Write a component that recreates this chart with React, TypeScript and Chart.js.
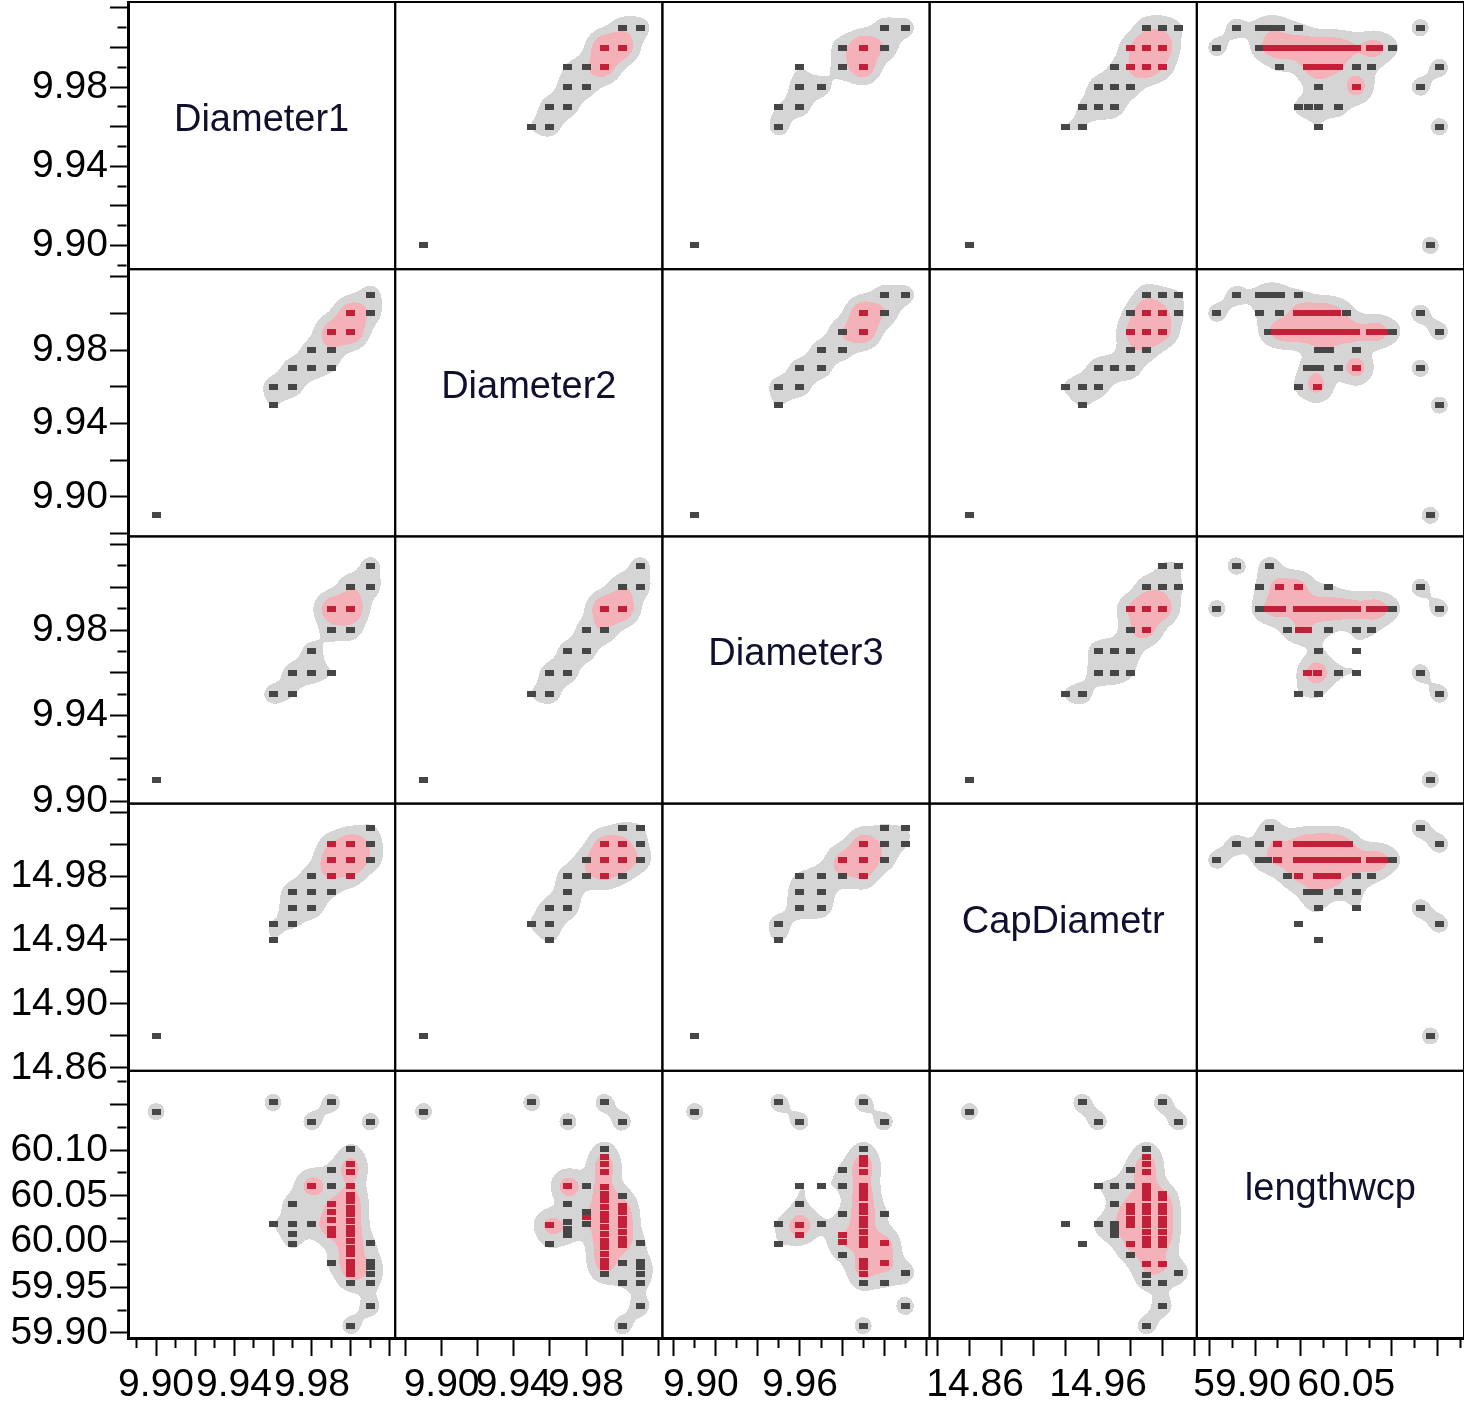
import { useEffect, useRef } from 'react';
import { Chart, registerables } from 'chart.js';

Chart.register(...registerables);

type Obs = [number, number, number];

const variables = ['Diameter1', 'Diameter2', 'Diameter3', 'CapDiametr', 'lengthwcp'];

// Axis ranges: a variable on the vertical axis (row) and on the horizontal axis (column)
const rowMin = [9.888, 9.8785, 9.8988, 14.8582, 59.8945];
const rowMax = [10.023, 10.024, 10.0238, 15.0253, 60.1866];
const colMin = [9.8856, 9.8743, 9.8946, 14.8553, 59.886];
const colMax = [10.0227, 10.0223, 10.0216, 15.0213, 60.179];

// Tick spacing, spacing of the long ticks, and the ticks that carry a label
const rowTickStep = [0.01, 0.02, 0.01, 0.02, 0.025];
const rowLongStep = [0.02, 0.02, 0.02, 0.02, 0.05];
const colTickStep = [0.01, 0.02, 0.01, 0.02, 0.025];
const colLongStep = [0.02, 0.02, 0.02, 0.02, 0.05];
const rowTickLabels = [
  ['9.90', '9.94', '9.98'],
  ['9.90', '9.94', '9.98'],
  ['9.90', '9.94', '9.98'],
  ['14.86', '14.90', '14.94', '14.98'],
  ['59.90', '59.95', '60.00', '60.05', '60.10'],
];
const colTickLabels = [
  ['9.90', '9.94', '9.98'],
  ['9.90', '9.94', '9.98'],
  ['9.90', '9.96'],
  ['14.86', '14.96'],
  ['59.90', '60.05'],
];
// leading blanks that keep a column's first label clear of the column to its left
const colFirstLabelIndent = [0, 0, 5, 7, 6];

// Pairwise observations: [first variable, second variable, count]
const d1d2: Obs[] = [
  [10.01, 10.0, 2], [10.01, 10.01, 2],
  [10.0, 9.99, 8], [10.0, 10.0, 7],
  [9.99, 9.97, 1], [9.99, 9.98, 2], [9.99, 9.99, 6],
  [9.98, 9.97, 2], [9.98, 9.98, 2],
  [9.97, 9.96, 2], [9.97, 9.97, 2],
  [9.96, 9.95, 1], [9.96, 9.96, 2],
  [9.9, 9.89, 1],
];
const d1d3: Obs[] = [
  [10.01, 10.0, 2], [10.01, 10.01, 2],
  [10.0, 9.98, 2], [10.0, 9.99, 8], [10.0, 10.0, 3],
  [9.99, 9.96, 1], [9.99, 9.98, 2], [9.99, 9.99, 7],
  [9.98, 9.96, 2], [9.98, 9.97, 2],
  [9.97, 9.95, 1], [9.97, 9.96, 2],
  [9.96, 9.95, 2],
  [9.9, 9.91, 1],
];
const d1cap: Obs[] = [
  [10.01, 14.99, 2], [10.01, 15.0, 2], [10.01, 15.01, 1],
  [10.0, 14.98, 2], [10.0, 14.99, 7], [10.0, 15.0, 6],
  [9.99, 14.97, 1], [9.99, 14.98, 2], [9.99, 14.99, 6], [9.99, 15.0, 2],
  [9.98, 14.96, 2], [9.98, 14.97, 2], [9.98, 14.98, 2],
  [9.97, 14.95, 1], [9.97, 14.96, 2], [9.97, 14.97, 2],
  [9.96, 14.94, 1], [9.96, 14.95, 1],
  [9.9, 14.88, 1],
];
const d1len: Obs[] = [
  [10.01, 59.929, 2], [10.01, 59.955, 1], [10.01, 59.964, 1], [10.01, 59.972, 1], [10.01, 59.978, 1], [10.01, 59.998, 1], [10.01, 60.131, 2],
  [10.0, 59.908, 2], [10.0, 59.955, 1],
  [10.0, 59.964, 2], [10.0, 59.971, 2], [10.0, 59.978, 2], [10.0, 59.986, 2], [10.0, 59.993, 2], [10.0, 60.0, 2], [10.0, 60.008, 2],
  [10.0, 60.015, 2], [10.0, 60.022, 2], [10.0, 60.03, 2], [10.0, 60.037, 2], [10.0, 60.044, 2], [10.0, 60.051, 2],
  [10.0, 60.061, 1], [10.0, 60.076, 3], [10.0, 60.085, 3], [10.0, 60.101, 1],
  [9.99, 59.977, 1], [9.99, 60.007, 2], [9.99, 60.014, 2], [9.99, 60.023, 2], [9.99, 60.032, 2], [9.99, 60.041, 2],
  [9.99, 60.061, 1], [9.99, 60.078, 1], [9.99, 60.152, 2],
  [9.98, 60.019, 2], [9.98, 60.061, 6], [9.98, 60.131, 2],
  [9.97, 59.997, 1], [9.97, 60.008, 1], [9.97, 60.019, 1], [9.97, 60.041, 2],
  [9.96, 60.019, 1], [9.96, 60.152, 2],
  [9.9, 60.142, 2],
];
const d2d3: Obs[] = [
  [10.01, 10.0, 2], [10.01, 10.01, 2],
  [10.0, 9.99, 8], [10.0, 10.0, 3],
  [9.99, 9.98, 3], [9.99, 9.99, 8],
  [9.98, 9.97, 2], [9.98, 9.98, 2],
  [9.97, 9.96, 2], [9.97, 9.97, 2],
  [9.96, 9.95, 2], [9.96, 9.96, 2],
  [9.95, 9.95, 1],
  [9.89, 9.91, 1],
];
const d2cap: Obs[] = [
  [10.01, 14.99, 2], [10.01, 15.0, 1], [10.01, 15.01, 1],
  [10.0, 14.98, 1], [10.0, 14.99, 6], [10.0, 15.0, 3], [10.0, 15.01, 1],
  [9.99, 14.98, 3], [9.99, 14.99, 7], [9.99, 15.0, 5],
  [9.98, 14.98, 2], [9.98, 14.99, 2],
  [9.97, 14.96, 2], [9.97, 14.97, 2], [9.97, 14.98, 2],
  [9.96, 14.94, 1], [9.96, 14.95, 2], [9.96, 14.96, 2],
  [9.95, 14.95, 1],
  [9.89, 14.88, 1],
];
const d2len: Obs[] = [
  [10.01, 59.929, 2], [10.01, 59.955, 1], [10.01, 59.964, 1], [10.01, 59.972, 1], [10.01, 59.978, 1], [10.01, 59.998, 1],
  [10.0, 59.908, 2], [10.0, 59.955, 1], [10.0, 59.977, 1],
  [10.0, 59.996, 2], [10.0, 60.003, 2], [10.0, 60.01, 2], [10.0, 60.018, 2], [10.0, 60.025, 2], [10.0, 60.032, 2], [10.0, 60.039, 2],
  [10.0, 60.05, 1], [10.0, 60.131, 2],
  [9.99, 59.965, 1],
  [9.99, 59.972, 2], [9.99, 59.979, 2], [9.99, 59.986, 2], [9.99, 59.994, 2], [9.99, 60.001, 2], [9.99, 60.008, 2], [9.99, 60.016, 2],
  [9.99, 60.023, 2], [9.99, 60.03, 2], [9.99, 60.038, 2], [9.99, 60.045, 2], [9.99, 60.052, 2], [9.99, 60.06, 2],
  [9.99, 60.076, 3], [9.99, 60.085, 3], [9.99, 60.092, 1], [9.99, 60.101, 1], [9.99, 60.152, 2],
  [9.98, 60.019, 1], [9.98, 60.027, 1], [9.98, 60.032, 1], [9.98, 60.061, 1],
  [9.97, 60.007, 1], [9.97, 60.014, 1], [9.97, 60.021, 1], [9.97, 60.041, 1], [9.97, 60.061, 6], [9.97, 60.131, 2],
  [9.96, 59.997, 1], [9.96, 60.018, 5],
  [9.95, 60.152, 2],
  [9.89, 60.142, 2],
];
const d3cap: Obs[] = [
  [10.01, 15.0, 1], [10.01, 15.01, 1],
  [10.0, 14.99, 2], [10.0, 15.0, 2], [10.0, 15.01, 1],
  [9.99, 14.98, 3], [9.99, 14.99, 7], [9.99, 15.0, 6],
  [9.98, 14.98, 2], [9.98, 14.99, 5],
  [9.97, 14.96, 2], [9.97, 14.97, 2], [9.97, 14.98, 2],
  [9.96, 14.96, 2], [9.96, 14.97, 2], [9.96, 14.98, 1],
  [9.95, 14.94, 1], [9.95, 14.95, 2],
  [9.91, 14.88, 1],
];
const d3len: Obs[] = [
  [10.01, 59.929, 2], [10.01, 59.966, 2],
  [10.0, 59.955, 1], [10.0, 59.977, 5], [10.0, 59.998, 5], [10.0, 60.03, 1], [10.0, 60.131, 2],
  [9.99, 59.908, 2], [9.99, 59.955, 1],
  [9.99, 59.965, 2], [9.99, 59.972, 2], [9.99, 59.979, 2], [9.99, 59.996, 2], [9.99, 60.003, 2], [9.99, 60.01, 2], [9.99, 60.018, 2],
  [9.99, 60.025, 2], [9.99, 60.032, 2], [9.99, 60.039, 2], [9.99, 60.047, 2], [9.99, 60.054, 2], [9.99, 60.061, 2],
  [9.99, 60.076, 3], [9.99, 60.085, 3], [9.99, 60.091, 1], [9.99, 60.101, 1], [9.99, 60.152, 2],
  [9.98, 59.985, 1], [9.98, 59.999, 2], [9.98, 60.007, 2], [9.98, 60.03, 1], [9.98, 60.061, 1], [9.98, 60.078, 1],
  [9.97, 60.019, 1], [9.97, 60.061, 1],
  [9.96, 60.007, 1], [9.96, 60.018, 6], [9.96, 60.041, 1], [9.96, 60.061, 1], [9.96, 60.131, 2],
  [9.95, 59.997, 1], [9.95, 60.019, 1], [9.95, 60.152, 2],
  [9.91, 60.142, 2],
];
const capLen: Obs[] = [
  [15.01, 59.966, 2], [15.01, 60.131, 2],
  [15.0, 59.929, 2], [15.0, 59.955, 1], [15.0, 59.975, 3],
  [15.0, 59.996, 2], [15.0, 60.003, 2], [15.0, 60.01, 2], [15.0, 60.018, 2], [15.0, 60.025, 2], [15.0, 60.032, 2], [15.0, 60.039, 2], [15.0, 60.047, 2],
  [15.0, 60.052, 1], [15.0, 60.152, 2],
  [14.99, 59.908, 2], [14.99, 59.955, 1], [14.99, 59.963, 1], [14.99, 59.975, 3],
  [14.99, 59.996, 2], [14.99, 60.003, 2], [14.99, 60.01, 2], [14.99, 60.018, 2], [14.99, 60.025, 2], [14.99, 60.032, 2], [14.99, 60.039, 2],
  [14.99, 60.047, 2], [14.99, 60.054, 2], [14.99, 60.061, 2],
  [14.99, 60.076, 3], [14.99, 60.085, 3], [14.99, 60.092, 1], [14.99, 60.101, 1],
  [14.98, 59.985, 1], [14.98, 59.997, 3], [14.98, 60.018, 2], [14.98, 60.025, 2], [14.98, 60.032, 2], [14.98, 60.039, 2], [14.98, 60.061, 1], [14.98, 60.078, 1],
  [14.97, 60.007, 1], [14.97, 60.014, 1], [14.97, 60.019, 1], [14.97, 60.041, 1], [14.97, 60.061, 1],
  [14.96, 60.019, 1], [14.96, 60.061, 1], [14.96, 60.131, 2],
  [14.95, 59.997, 1], [14.95, 60.152, 2],
  [14.94, 60.019, 1],
  [14.88, 60.142, 2],
];

const pairs: { a: number; b: number; obs: Obs[] }[] = [
  { a: 0, b: 1, obs: d1d2 },
  { a: 0, b: 2, obs: d1d3 },
  { a: 0, b: 3, obs: d1cap },
  { a: 0, b: 4, obs: d1len },
  { a: 1, b: 2, obs: d2d3 },
  { a: 1, b: 3, obs: d2cap },
  { a: 1, b: 4, obs: d2len },
  { a: 2, b: 3, obs: d3cap },
  { a: 2, b: 4, obs: d3len },
  { a: 3, b: 4, obs: capLen },
];

const FONT = '"Liberation Sans", Arial, Helvetica, sans-serif';
const KERNEL_PX = 10;
const GRAY_LEVEL = 1.4;
const PINK_LEVEL = 4.5;
const GRAY_RGB = [213, 213, 213];
const PINK_RGB = [245, 177, 184];

function isMultiple(v: number, step: number) {
  const q = v / step;
  return Math.abs(q - Math.round(q)) < 1e-6;
}

function axisOptions(horizontal: boolean, i: number, min: number, max: number, step: number, longStep: number, labels: string[], indent: number) {
  return {
    type: 'linear',
    position: horizontal ? 'bottom' : 'left',
    stack: horizontal ? 'cols' : 'rows',
    stackWeight: 1,
    weight: horizontal ? i : 4 - i,
    min,
    max,
    afterFit: (s: any) => {
      if (horizontal) s.height = 70;
      else s.width = 128;
      s.paddingTop = 0;
      s.paddingBottom = 0;
      s.paddingLeft = 0;
      s.paddingRight = 0;
    },
    border: { display: true, color: '#000', width: 3 },
    grid: {
      drawOnChartArea: false,
      drawTicks: true,
      tickLength: 18,
      tickWidth: 2,
      tickColor: '#000',
      tickBorderDash: (ctx: any) => {
        if (isMultiple(ctx.tick.value, longStep)) return [];
        return horizontal ? [8, 60] : [0, 7.5, 9, 60];
      },
    },
    ticks: {
      stepSize: step,
      maxTicksLimit: 1000,
      includeBounds: false,
      autoSkip: false,
      maxRotation: 0,
      minRotation: 0,
      padding: horizontal ? 6 : 2,
      color: '#000',
      font: { family: FONT, size: 39 },
      callback: (v: any) => {
        const t = Number(v).toFixed(2);
        if (!labels.includes(t)) return '';
        return t === labels[0] ? ' '.repeat(indent) + t : t;
      },
    },
  };
}

function makeDot(color: string) {
  const c = document.createElement('canvas');
  c.width = 9;
  c.height = 6;
  const g = c.getContext('2d')!;
  g.fillStyle = color;
  g.fillRect(0, 0, 9, 6);
  return c;
}

export default function App() {
  const ref = useRef<HTMLCanvasElement>(null);

  useEffect(() => {
    const darkDot = makeDot('#464646');
    const redDot = makeDot('#c21f39');
    const state: { layer: HTMLCanvasElement | null; red: boolean[][] } = { layer: null, red: [] };

    const datasets: any[] = [];
    for (let r = 0; r < 5; r++) {
      for (let c = 0; c < 5; c++) {
        if (r === c) continue;
        const a = Math.min(r, c);
        const b = Math.max(r, c);
        const pair = pairs.find((p) => p.a === a && p.b === b)!;
        const data = pair.obs.map(([va, vb, n]) => (r < c ? { x: vb, y: va, n } : { x: va, y: vb, n }));
        datasets.push({
          type: 'scatter',
          data,
          xAxisID: 'x' + c,
          yAxisID: 'y' + r,
          pointRadius: 4,
          pointStyle: (ctx: any) => (state.red[ctx.datasetIndex]?.[ctx.dataIndex] ? redDot : darkDot),
        });
      }
    }

    const scales: any = {};
    for (let i = 0; i < 5; i++) {
      scales['x' + i] = axisOptions(true, i, colMin[i], colMax[i], colTickStep[i], colLongStep[i], colTickLabels[i], colFirstLabelIndent[i]);
      scales['y' + i] = axisOptions(false, i, rowMin[i], rowMax[i], rowTickStep[i], rowLongStep[i], rowTickLabels[i], 0);
    }

    // Kernel density shading behind each scatter cell, built in pixel space from the chart's scales
    const densityPlugin = {
      id: 'densityShading',
      afterLayout(chart: any) {
        const W = chart.width;
        const H = chart.height;
        const layer = document.createElement('canvas');
        layer.width = W;
        layer.height = H;
        const lctx = layer.getContext('2d')!;
        const img = lctx.createImageData(W, H);
        const inv = 1 / (2 * KERNEL_PX * KERNEL_PX);
        const reach = Math.ceil(KERNEL_PX * 3.5);
        const red: boolean[][] = [];
        chart.data.datasets.forEach((ds: any, di: number) => {
          const xs = chart.scales[ds.xAxisID];
          const ys = chart.scales[ds.yAxisID];
          const left = Math.ceil(xs.left);
          const right = Math.floor(xs.right);
          const top = Math.ceil(ys.top);
          const bottom = Math.floor(ys.bottom);
          const gw = right - left;
          const gh = bottom - top;
          const grid = new Float32Array(gw * gh);
          const pts = ds.data.map((p: any) => ({ px: xs.getPixelForValue(p.x), py: ys.getPixelForValue(p.y), n: p.n }));
          for (const p of pts) {
            const cx = p.px - left;
            const cy = p.py - top;
            const x0 = Math.max(0, Math.floor(cx - reach));
            const x1 = Math.min(gw - 1, Math.ceil(cx + reach));
            const y0 = Math.max(0, Math.floor(cy - reach));
            const y1 = Math.min(gh - 1, Math.ceil(cy + reach));
            for (let y = y0; y <= y1; y++) {
              const dy = y + 0.5 - cy;
              for (let x = x0; x <= x1; x++) {
                const dx = x + 0.5 - cx;
                grid[y * gw + x] += p.n * Math.exp(-(dx * dx + dy * dy) * inv);
              }
            }
          }
          for (let y = 0; y < gh; y++) {
            for (let x = 0; x < gw; x++) {
              const v = grid[y * gw + x];
              if (v < GRAY_LEVEL) continue;
              const rgb = v >= PINK_LEVEL ? PINK_RGB : GRAY_RGB;
              const o = ((top + y) * W + left + x) * 4;
              img.data[o] = rgb[0];
              img.data[o + 1] = rgb[1];
              img.data[o + 2] = rgb[2];
              img.data[o + 3] = 255;
            }
          }
          red[di] = pts.map((p: any) => {
            let s = 0;
            for (const q of pts) {
              const dx = p.px - q.px;
              const dy = p.py - q.py;
              s += q.n * Math.exp(-(dx * dx + dy * dy) * inv);
            }
            return s >= PINK_LEVEL;
          });
        });
        lctx.putImageData(img, 0, 0);
        state.layer = layer;
        state.red = red;
      },
      beforeDatasetsDraw(chart: any) {
        if (state.layer) chart.ctx.drawImage(state.layer, 0, 0);
      },
      afterDatasetsDraw(chart: any) {
        const ctx = chart.ctx;
        ctx.save();
        // variable names on the diagonal
        ctx.fillStyle = '#10102e';
        ctx.font = `38px ${FONT}`;
        ctx.textAlign = 'center';
        ctx.textBaseline = 'middle';
        for (let i = 0; i < 5; i++) {
          const xs = chart.scales['x' + i];
          const ys = chart.scales['y' + i];
          ctx.fillText(variables[i], (xs.left + xs.right) / 2, (ys.top + ys.bottom) / 2 - 15);
        }
        // cell frames
        ctx.strokeStyle = '#000';
        ctx.lineWidth = 2;
        for (let r = 0; r < 5; r++) {
          for (let c = 0; c < 5; c++) {
            const xs = chart.scales['x' + c];
            const ys = chart.scales['y' + r];
            ctx.strokeRect(xs.left, ys.top, xs.right - xs.left, ys.bottom - ys.top);
          }
        }
        ctx.restore();
      },
    };

    const chart = new Chart(ref.current!, {
      type: 'scatter',
      data: { datasets },
      options: {
        responsive: false,
        animation: false,
        devicePixelRatio: 1,
        events: [],
        layout: { autoPadding: false, padding: { top: 2, left: 0, right: 0, bottom: 0 } },
        plugins: { legend: { display: false }, tooltip: { enabled: false }, title: { display: false } },
        scales,
      },
      plugins: [densityPlugin],
    } as any);
    return () => chart.destroy();
  }, []);

  return (
    <div style={{ position: 'fixed', left: 0, top: 0, width: 1464, height: 1408, background: '#fff' }}>
      <canvas ref={ref} width={1464} height={1408} style={{ display: 'block' }} />
    </div>
  );
}
